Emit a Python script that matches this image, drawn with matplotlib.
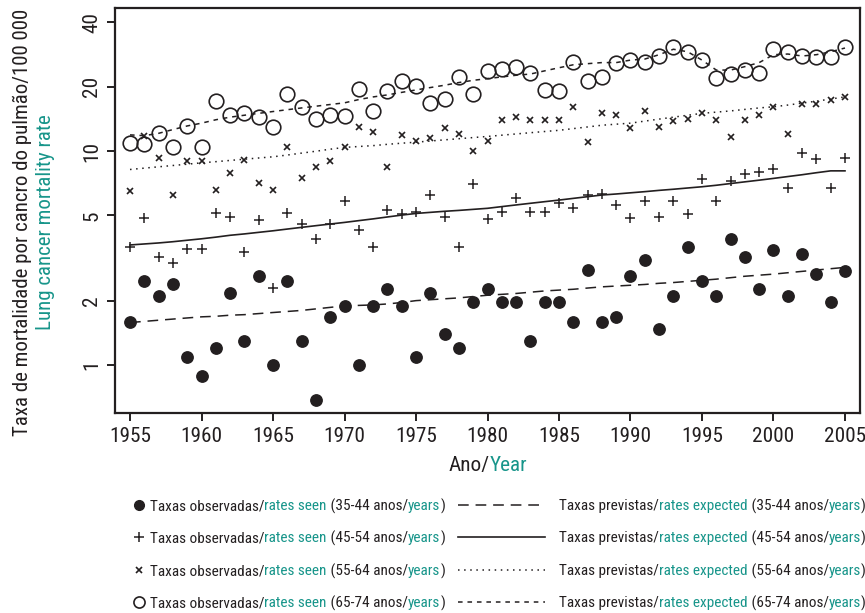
import matplotlib
matplotlib.use("Agg")
import matplotlib.pyplot as plt
from matplotlib.lines import Line2D
from matplotlib.transforms import IdentityTransform
from matplotlib import font_manager

years = list(range(1955, 2006))

obs_35_44 = [1.59, 2.47, 2.10, 2.38, 1.09, 0.89, 1.20, 2.16, 1.29, 2.60,
             1.00, 2.47, 1.29, 0.69, 1.68, 1.89, 1.00, 1.89, 2.27, 1.89,
             1.09, 2.17, 1.39, 1.20, 1.98, 2.27, 1.98, 1.98, 1.29, 1.98,
             1.98, 1.59, 2.78, 1.59, 1.68, 2.60, 3.09, 1.48, 2.10, 3.57,
             2.47, 2.10, 3.89, 3.19, 2.26, 3.45, 2.10, 3.29, 2.66, 1.98, 2.76]
obs_45_54 = [3.57, 4.85, 3.21, 2.99, 3.47, 3.47, 5.11, 4.93, 3.38, 4.76,
             2.28, 5.11, 4.56, 3.88, 4.56, 5.86, 4.29, 3.56, 5.30, 5.09,
             5.19, 6.25, 4.92, 3.56, 6.99, 4.83, 5.19, 6.05, 5.19, 5.19,
             5.73, 5.43, 6.23, 6.28, 5.59, 4.85, 5.84, 4.93, 5.84, 5.06,
             7.40, 5.84, 7.24, 7.79, 7.95, 8.21, 6.69, 9.76, 9.18, 6.69, 9.25]
obs_55_64 = [6.5, 11.7, 9.3, 6.2, 8.95, 8.95, 6.6, 7.9, 9.1, 7.1,
             6.6, 10.4, 7.5, 8.4, 9.0, 10.5, 12.9, 12.3, 8.4, 11.9,
             11.1, 11.5, 12.8, 12.0, 10.0, 11.2, 13.9, 14.5, 13.9, 14.0,
             13.9, 16.0, 11.0, 15.0, 14.8, 12.8, 15.4, 12.9, 13.8, 14.1,
             15.0, 13.9, 11.6, 13.9, 14.8, 16.0, 12.0, 16.5, 16.5, 17.3, 17.9]
obs_65_74 = [10.9, 10.8, 12.1, 10.5, 13.1, 10.5, 17.2, 14.7, 15.0, 14.4,
             12.9, 18.5, 16.0, 14.1, 14.7, 14.6, 19.4, 15.4, 19.1, 21.3,
             20.1, 16.8, 17.6, 22.3, 18.5, 23.6, 24.3, 24.8, 23.1, 19.3,
             19.1, 26.1, 21.3, 22.1, 25.8, 26.6, 26.1, 27.8, 30.7, 29.1,
             26.6, 22.0, 22.9, 23.9, 23.1, 29.9, 29.1, 27.8, 27.4, 27.6, 30.5]

exp_35_44 = [1.58, 1.60, 1.62, 1.64, 1.66, 1.68, 1.69, 1.71, 1.72, 1.74,
             1.76, 1.78, 1.80, 1.83, 1.86, 1.89, 1.90, 1.91, 1.93, 1.96,
             2.00, 2.02, 2.04, 2.06, 2.09, 2.12, 2.14, 2.16, 2.19, 2.22,
             2.24, 2.26, 2.29, 2.32, 2.34, 2.36, 2.38, 2.41, 2.43, 2.46,
             2.49, 2.52, 2.56, 2.60, 2.63, 2.66, 2.70, 2.74, 2.78, 2.82, 2.86]
exp_45_54 = [3.64, 3.68, 3.72, 3.77, 3.83, 3.89, 3.96, 4.04, 4.10, 4.17,
             4.24, 4.32, 4.40, 4.48, 4.56, 4.64, 4.73, 4.82, 4.92, 5.02,
             5.11, 5.17, 5.23, 5.28, 5.34, 5.40, 5.50, 5.60, 5.70, 5.80,
             5.90, 6.01, 6.12, 6.23, 6.30, 6.38, 6.46, 6.55, 6.63, 6.72,
             6.81, 6.92, 7.05, 7.18, 7.31, 7.45, 7.60, 7.75, 7.92, 8.08, 8.08]
exp_55_64 = [8.20, 8.32, 8.44, 8.56, 8.68, 8.81, 8.92, 9.04, 9.16, 9.28,
             9.40, 9.58, 9.78, 9.98, 10.2, 10.4, 10.5, 10.6, 10.75, 10.88,
             11.0, 11.14, 11.28, 11.42, 11.56, 11.7, 11.86, 12.02, 12.18, 12.34,
             12.5, 12.73, 12.96, 13.2, 13.35, 13.5, 13.8, 14.1, 14.4, 14.7,
             15.0, 15.2, 15.4, 15.65, 15.9, 16.1, 16.4, 16.75, 17.1, 17.5, 17.9]
exp_65_74 = [11.9, 11.8, 12.1, 12.6, 13.1, 13.5, 14.0, 14.4, 14.7, 15.0,
             15.3, 15.6, 15.9, 16.2, 16.5, 16.8, 17.4, 17.9, 18.3, 18.8,
             19.3, 19.8, 20.3, 20.9, 21.4, 21.8, 22.2, 22.6, 22.9, 23.7,
             24.5, 25.3, 25.6, 25.9, 25.9, 26.6, 26.9, 28.2, 29.9, 29.1,
             26.6, 23.9, 23.9, 24.8, 25.9, 28.2, 28.4, 27.8, 28.2, 29.1, 30.3]

x_ticks = [1955, 1960, 1965, 1970, 1975, 1980, 1985, 1990, 1995, 2000, 2005]
y_ticks = [1, 2, 5, 10, 20, 40]
age_groups = ["35-44", "45-54", "55-64", "65-74"]

DARK = "#231f20"
TEAL = "#17958a"

names = {f.name for f in font_manager.fontManager.ttflist}
FAM = [n for n in ["Roboto Condensed", "Archivo Narrow", "Liberation Sans"] if n in names] + ["DejaVu Sans"]
plt.rcParams["font.family"] = FAM
plt.rcParams["text.color"] = DARK

W, H = 865, 613
fig = plt.figure(figsize=(W / 100, H / 100), dpi=100)
fig.canvas.draw()
renderer = fig.canvas.get_renderer()
tr = IdentityTransform()


def width_of(s, size):
    t = fig.text(0, 0, s, fontsize=size, transform=tr)
    w = t.get_window_extent(renderer).width
    t.remove()
    return w


def fit_size(s, target, base=12.0):
    return base * target / width_of(s, base)


TICK_SIZE = fit_size("1955", 42)

ax = fig.add_axes([115 / W, 1 - 413 / H, 745 / W, 405 / H])
ax.set_yscale("log")
ax.set_xlim(1953.95, 2006.05)
ax.set_ylim(0.597, 46.6)

styles_obs = [
    dict(marker="o", ms=8.2, mfc=DARK, mec=DARK, ls="none"),
    dict(marker="+", ms=7.5, mec=DARK, mew=1.1, ls="none"),
    dict(marker="x", ms=4.5, mec=DARK, mew=1.2, ls="none"),
    dict(marker="o", ms=10.5, mfc="none", mec=DARK, mew=1.2, ls="none"),
]
legend_ms = [7.0, 7.0, 4.2, 8.0]
styles_exp = [
    dict(ls=(0, (7, 4.5)), lw=1.1, color=DARK),
    dict(ls="-", lw=1.2, color=DARK),
    dict(ls=(0, (1, 3)), lw=1.1, color=DARK),
    dict(ls=(0, (3, 3.2)), lw=1.1, color=DARK),
]
obs = [obs_35_44, obs_45_54, obs_55_64, obs_65_74]
exp = [exp_35_44, exp_45_54, exp_55_64, exp_65_74]
for e, st in zip(exp, styles_exp):
    ax.plot(years, e, **st)
for o, st in zip(obs, styles_obs):
    ax.plot(years, o, **st)

ax.set_xticks(x_ticks)
ax.set_xticklabels([str(t) for t in x_ticks])
ax.set_yticks(y_ticks)
ax.set_yticklabels([str(t) for t in y_ticks], rotation=90, va="center")
ax.yaxis.set_minor_locator(matplotlib.ticker.NullLocator())
ax.tick_params(axis="both", which="major", length=6, width=1.4, color=DARK,
               labelsize=TICK_SIZE, labelcolor=DARK, pad=4)
for s in ax.spines.values():
    s.set_linewidth(1.6)
    s.set_color(DARK)


def multi_text(x, y, parts, size, ha="left"):
    # x, y in pixels from top-left; y is the visual middle of capitals
    cap = 0.71 * size * 100 / 72
    yy = H - (y + cap / 2)
    widths = [width_of(s, size) for s, c in parts]
    total = sum(widths)
    cx = x - total / 2 if ha == "center" else x
    for (s, c), w in zip(parts, widths):
        fig.text(cx, yy, s, color=c, fontsize=size, transform=tr, va="baseline")
        cx += w


# y-axis label (two lines)
yl1 = "Taxa de mortalidade por cancro do pulmão/100 000"
yl2 = "Lung cancer mortality rate"
YL_SIZE = fit_size(yl1, 427)
fig.text(22, H - 222, yl1, rotation=90, fontsize=YL_SIZE, color=DARK,
         transform=tr, ha="center", va="center")
fig.text(46, H - 222, yl2, rotation=90, fontsize=YL_SIZE, color=TEAL,
         transform=tr, ha="center", va="center")

# x-axis label
multi_text(488, 463, [("Ano/", DARK), ("Year", TEAL)], TICK_SIZE, ha="center")

# legend
rows = [505, 537, 570, 602]
LS = fit_size("Taxas observadas/rates seen (35-44 anos/years)", 293)
for i, (g, y) in enumerate(zip(age_groups, rows)):
    st = dict(styles_obs[i])
    st["ms"] = legend_ms[i]
    ln = Line2D([139], [H - y], transform=tr, **st)
    fig.add_artist(ln)
    multi_text(150, y, [("Taxas observadas/", DARK), ("rates seen", TEAL),
                        (f" ({g} anos/", DARK), ("years", TEAL), (")", DARK)], LS)
    sl = Line2D([458, 545], [H - y, H - y], transform=tr, **styles_exp[i])
    fig.add_artist(sl)
    multi_text(559, y, [("Taxas previstas/", DARK), ("rates expected", TEAL),
                        (f" ({g} anos/", DARK), ("years", TEAL), (")", DARK)], LS)

fig.savefig("out.png", dpi=100)
